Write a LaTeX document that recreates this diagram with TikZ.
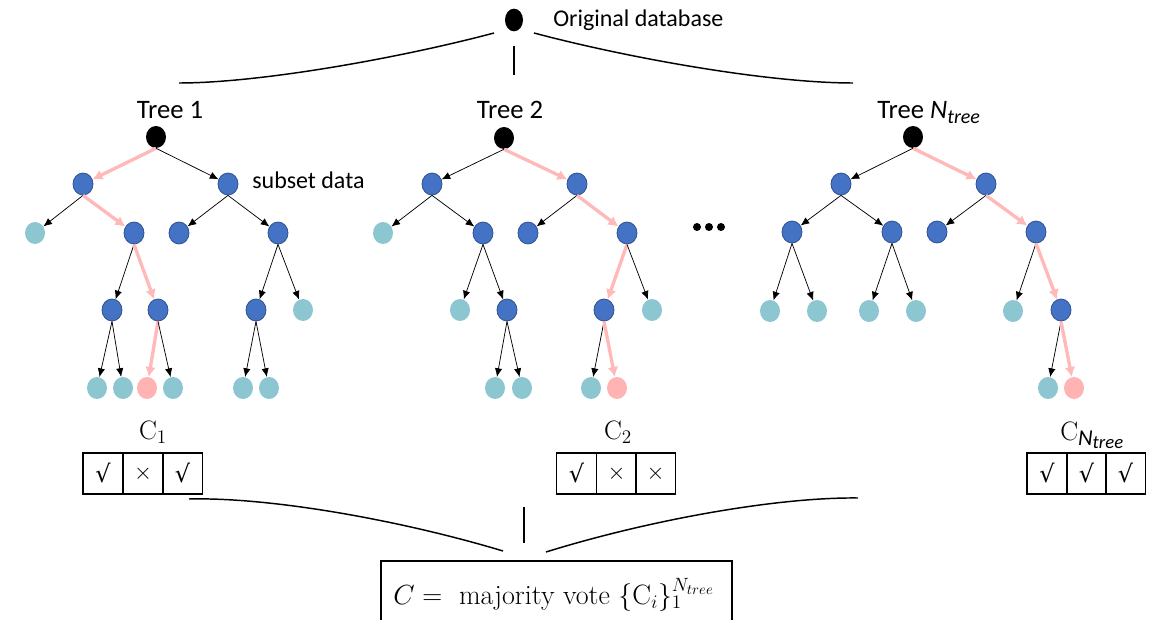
\documentclass[tikz,border=0pt]{standalone}
\usepackage{fontspec}
\newfontfamily\calibri{Carlito}
\newfontfamily\dejavu{DejaVu Sans}
\usetikzlibrary{shapes.geometric,arrows.meta}
\definecolor{nblue}{RGB}{68,114,196}
\definecolor{nbluedk}{RGB}{47,82,143}
\definecolor{nteal}{RGB}{140,198,208}
\definecolor{npink}{RGB}{255,179,179}
\definecolor{epink}{RGB}{255,185,185}
\tikzset{
  nd/.style={ellipse, minimum width=15pt, minimum height=16.5pt, inner sep=0pt},
  bl/.style={nd, fill=nblue, draw=nbluedk, line width=0.6pt},
  tl/.style={nd, fill=nteal},
  pk/.style={nd, fill=npink},
  rt/.style={nd, fill=black},
  edge/.style={-{Latex[length=6.5pt,width=5.5pt]}, line width=0.55pt},
  pedge/.style={-{Latex[length=7.5pt,width=8pt]}, line width=2.5pt, draw=epink, color=epink},
  cell/.style={draw, line width=0.8pt, minimum width=30pt, minimum height=30.75pt, inner sep=0pt},
  lbl/.style={font=\calibri\fontsize{18}{20}\selectfont, inner sep=0pt},
  tlbl/.style={font=\calibri\fontsize{20}{22}\selectfont, inner sep=0pt},
  clbl/.style={font=\fontsize{20}{22}\selectfont, inner sep=0pt},
  brace/.style={line width=1.1pt},
  ck/.style={font=\dejavu\fontsize{18}{20}\selectfont},
  cx/.style={font=\fontsize{16}{18}\selectfont}
}
\begin{document}
\begin{tikzpicture}[x=0.75pt,y=-0.75pt]
\useasboundingbox (0,0) rectangle (1153,620);
% original database
\node[rt, minimum width=13.5pt, minimum height=17pt] (db) at (514,20) {};
\node[lbl, anchor=base west] (dbl) at (553,27) {Original database};
\draw[brace] (179,83) .. controls (260,83) and (400,58) .. (494,33);
\draw[brace] (534,33) .. controls (628,58) and (768,83) .. (853,83);
\draw[brace] (514,46) -- (514,75);
% labels
\node[tlbl, anchor=base] (t1) at (170,119) {Tree 1};
\node[tlbl, anchor=base] (t2) at (510,119) {Tree 2};
\node[tlbl, anchor=base west] (tn) at (877,119) {Tree \textit{N}\raisebox{-0.35ex}{\fontsize{15}{17}\selectfont\itshape tree}};
\node[lbl, anchor=base west] (sd) at (252,189) {subset data};
% ---------- Tree 1
\node[rt] (a0) at (156,137) {};
\node[bl] (a1) at (83,184) {};
\node[bl] (a2) at (228,184) {};
\node[tl] (a3) at (35,233) {};
\node[bl] (a4) at (134,233) {};
\node[bl] (a5) at (179,233) {};
\node[bl] (a6) at (278,233) {};
\node[bl] (a7) at (112,310) {};
\node[bl] (a8) at (158,310) {};
\node[bl] (a9) at (256,310) {};
\node[tl] (a10) at (303,310) {};
\node[tl] (a11) at (97,388) {};
\node[tl] (a12) at (123,388) {};
\node[pk] (a13) at (147,388) {};
\node[tl] (a14) at (173,388) {};
\node[tl] (a15) at (243,388) {};
\node[tl] (a16) at (269,388) {};
\draw[pedge] (a0.south) -- (a1);
\draw[edge] (a0.south) -- (a2);
\draw[edge] (a1.south) -- (a3);
\draw[pedge] (a1.south) -- (a4);
\draw[edge] (a2.south) -- (a5);
\draw[edge] (a2.south) -- (a6);
\draw[edge] (a4.south) -- (a7);
\draw[pedge] (a4.south) -- (a8);
\draw[edge] (a6.south) -- (a9);
\draw[edge] (a6.south) -- (a10);
\draw[edge] (a7.south) -- (a11);
\draw[edge] (a7.south) -- (a12);
\draw[pedge] (a8.south) -- (a13);
\draw[edge] (a8.south) -- (a14);
\draw[edge] (a9.south) -- (a15);
\draw[edge] (a9.south) -- (a16);
% ---------- Tree 2
\node[rt] (b0) at (504,138) {};
\node[bl] (b1) at (432,184) {};
\node[bl] (b2) at (577,184) {};
\node[tl] (b3) at (383,233) {};
\node[bl] (b4) at (483,233) {};
\node[bl] (b5) at (528,233) {};
\node[bl] (b6) at (627,233) {};
\node[tl] (b7) at (460,310) {};
\node[bl] (b8) at (507,310) {};
\node[bl] (b9) at (604,310) {};
\node[tl] (b10) at (652,310) {};
\node[tl] (b11) at (495,388) {};
\node[tl] (b12) at (522,388) {};
\node[tl] (b13) at (591,388) {};
\node[pk] (b14) at (617,388) {};
\draw[edge] (b0.south) -- (b1);
\draw[pedge] (b0.south) -- (b2);
\draw[edge] (b1.south) -- (b3);
\draw[edge] (b1.south) -- (b4);
\draw[edge] (b2.south) -- (b5);
\draw[pedge] (b2.south) -- (b6);
\draw[edge] (b4.south) -- (b7);
\draw[edge] (b4.south) -- (b8);
\draw[pedge] (b6.south) -- (b9);
\draw[edge] (b6.south) -- (b10);
\draw[edge] (b8.south) -- (b11);
\draw[edge] (b8.south) -- (b12);
\draw[edge] (b9.south) -- (b13);
\draw[pedge] (b9.south) -- (b14);
% dots
\fill (697,227) circle[radius=3pt];
\fill (709,227) circle[radius=3pt];
\fill (721,227) circle[radius=3pt];
% ---------- Tree N
\node[rt] (c0) at (913,137) {};
\node[bl] (c1) at (841,184) {};
\node[bl] (c2) at (986,184) {};
\node[bl] (c3) at (792,232) {};
\node[bl] (c4) at (892,232) {};
\node[bl] (c5) at (937,232) {};
\node[bl] (c6) at (1036,232) {};
\node[tl] (c7) at (770,311) {};
\node[tl] (c8) at (817,311) {};
\node[tl] (c9) at (869,311) {};
\node[tl] (c10) at (916,311) {};
\node[tl] (c11) at (1013,311) {};
\node[bl] (c12) at (1061,310) {};
\node[tl] (c13) at (1048,388) {};
\node[pk] (c14) at (1074,388) {};
\draw[edge] (c0.south) -- (c1);
\draw[pedge] (c0.south) -- (c2);
\draw[edge] (c1.south) -- (c3);
\draw[edge] (c1.south) -- (c4);
\draw[edge] (c2.south) -- (c5);
\draw[pedge] (c2.south) -- (c6);
\draw[edge] (c3.south) -- (c7);
\draw[edge] (c3.south) -- (c8);
\draw[edge] (c4.south) -- (c9);
\draw[edge] (c4.south) -- (c10);
\draw[edge] (c6.south) -- (c11);
\draw[pedge] (c6.south) -- (c12);
\draw[edge] (c12.south) -- (c13);
\draw[pedge] (c12.south) -- (c14);
% ---------- classifier outputs
\node[clbl] (l1) at (153,432) {$\mathrm{C}_1$};
\node[cell, ck] (p1) at (103,473.5) {√};
\node[cell, cx] (p2) at (143,473.5) {$\times$};
\node[cell, ck] (p3) at (182.5,473.5) {√};
\node[clbl] (l2) at (618,432) {$\mathrm{C}_2$};
\node[cell, ck] (q1) at (576.5,473.5) {√};
\node[cell, cx] (q2) at (616.5,473.5) {$\times$};
\node[cell, cx] (q3) at (655.5,473.5) {$\times$};
\node[clbl, anchor=base west] (ln) at (1060,440) {C\raisebox{-0.45ex}{\calibri\itshape\fontsize{17}{19}\selectfont N\raisebox{-0.35ex}{\fontsize{14}{16}\selectfont tree}}};
\node[cell, ck] (r1) at (1047,473.5) {√};
\node[cell, ck] (r2) at (1086.5,473.5) {√};
\node[cell, ck] (r3) at (1125.5,473.5) {√};
% ---------- bottom braces
\draw[brace] (189,499) .. controls (270,497) and (400,520) .. (503,551);
\draw[brace] (546,552) .. controls (649,520) and (777,497) .. (858,498);
\draw[brace] (524,507) -- (524,543);
% ---------- majority vote box
\draw[line width=1.1pt] (381,630) -- (381,561) -- (732,561) -- (732,630);
\node[anchor=base west, inner sep=0pt, font=\fontsize{21}{24}\selectfont] (mv) at (393,604) {$C =$\ \ majority vote $\{\mathrm{C}_i\}_1^{N_{tree}}$};
\end{tikzpicture}
\end{document}
